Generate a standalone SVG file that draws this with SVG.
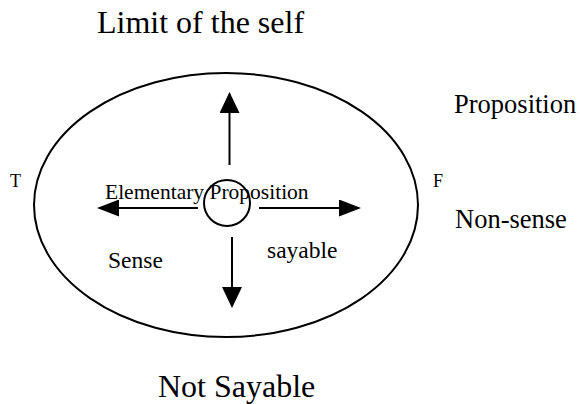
<svg xmlns="http://www.w3.org/2000/svg" width="580" height="404" viewBox="0 0 580 404" font-family="'Liberation Serif', Tinos, 'Times New Roman', serif">
<defs>
<style>
text{font-family:'Liberation Serif',Tinos,'Times New Roman',serif;fill:#000}
.big{font-size:32px}
.mid{font-size:26.5px}
.lab{font-size:23.5px}
.tf{font-size:18px}
.sm{font-size:21.5px}
.ln{stroke:#000;stroke-width:2;fill:none}
</style>
<marker id="av" viewBox="0 0 21 20" refX="19" refY="10" markerWidth="21" markerHeight="20" markerUnits="userSpaceOnUse" orient="auto">
<path d="M0,0 L21,10 L0,20 z" fill="#000"/>
</marker>
<marker id="ah" viewBox="0 0 22 17" refX="20" refY="8.5" markerWidth="22" markerHeight="17" markerUnits="userSpaceOnUse" orient="auto">
<path d="M0,0 L22,8.5 L0,17 z" fill="#000"/>
</marker>
</defs>
<rect width="580" height="404" fill="#fff"/>
<g id="title"><text class="big" x="97" y="33">Limit of the self</text></g>
<g id="ellipse"><ellipse cx="226" cy="205" rx="192" ry="132" class="ln"/></g>
<g id="center"><circle cx="227" cy="203" r="23" class="ln"/>
<text class="sm" x="105" y="199">Elementary Proposition</text></g>
<g id="connectors">
<line x1="229.5" y1="165" x2="229.5" y2="94" class="ln" marker-end="url(#av)"/>
<line x1="198" y1="208" x2="99" y2="208" class="ln" marker-end="url(#ah)"/>
<line x1="259" y1="208" x2="359" y2="208" class="ln" marker-end="url(#ah)"/>
<line x1="232" y1="237" x2="232" y2="306" class="ln" marker-end="url(#av)"/>
</g>
<g id="labels">
<text class="mid" x="454" y="113">Proposition</text>
<text class="mid" x="455" y="228">Non-sense</text>
<text class="tf" x="10" y="187">T</text>
<text class="tf" x="433" y="187">F</text>
<text class="lab" x="108" y="268">Sense</text>
<text class="lab" x="267" y="258">sayable</text>
</g>
<g id="bottom"><text class="big" x="158" y="397" font-size="31.5">Not Sayable</text></g>
</svg>
